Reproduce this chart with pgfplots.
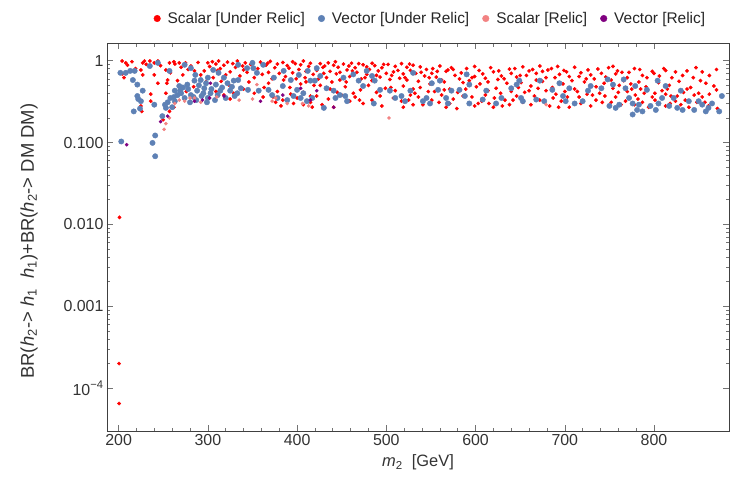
\documentclass[border=0pt]{standalone}
\usepackage{fontspec}
\setmainfont{Liberation Sans}
\usepackage{pgfplots}
\pgfplotsset{compat=1.18}
\definecolor{scalarU}{RGB}{255,0,0}
\definecolor{vectorU}{RGB}{94,129,181}
\definecolor{scalarR}{RGB}{242,130,130}
\definecolor{vectorR}{RGB}{128,0,128}
\begin{document}
\begin{tikzpicture}
\begin{axis}[
  scale only axis, width=622bp, height=387.5bp,
  xmin=187, xmax=884, ymode=log, ymin=3.0e-5, ymax=1.62,
  xtick={200,300,400,500,600,700,800}, minor x tick num=4,
  ytick={1e-4,1e-3,1e-2,1e-1,1},
  yticklabels={10\textsuperscript{−4},0.001,0.010,0.100,1},
  /pgf/number format/assume math mode=true,
  /pgf/number format/1000 sep={},
  tick align=inside, major tick length=6bp, minor tick length=3.5bp,
  every tick/.style={black!55, line width=0.6pt},
  axis line style={black!75, line width=0.8pt},
  tick label style={font=\fontsize{16}{19}\selectfont, text=black!80},
  xlabel={\textit{m}\textsubscript{2}\ \ [GeV]},
  ylabel={BR(\textit{h}\textsubscript{2}-> \textit{h}\textsubscript{1}\ \ \textit{h}\textsubscript{1})+BR(\textit{h}\textsubscript{2}-> DM DM)},
  xlabel style={at={(axis description cs:0.5,-0.0813)}, anchor=center, font=\fontsize{16.5}{20}\selectfont, text=black!80},
  ylabel style={at={(axis description cs:-0.1254,0.49)}, rotate=0, anchor=center, font=\fontsize{18.5}{21}\selectfont, text=black!80},
  legend columns=4,
  legend style={at={(axis description cs:0.52,1.0645)}, anchor=center, draw=none, fill=none,
    font=\fontsize{15.5}{19}\selectfont, text=black!85,
    /tikz/every odd column/.append style={column sep=5bp},
    /tikz/every even column/.append style={column sep=11bp}},
  legend cell align=left,
  legend image code/.code={\fill (0.15cm,0cm) circle (3.3bp);},
]
% Scalar [Under Relic]
\addplot[only marks, mark=*, color=scalarU, mark size=1.7bp, mark options={draw=none, fill=scalarU}] coordinates {
(200.5,6.5e-5) (200.5,2.0e-4) (201,0.0122)
(204,0.99) (208,0.94) (206,0.62) (204,0.69) (227,0.94) (229,0.99) (235,0.99) (240,0.94) (244,0.99)
(257,0.94) (263,0.91) (268,0.94) (275,0.94) (281,0.86) (300,0.94) (253,0.77) (258,0.71) (240,0.67)
(255,0.58) (254,0.53) (225,0.77) (227,0.67) (236,0.39) (236,0.32) (225,0.28) (226,0.24) (244,0.53)
(253,0.40) (250,0.19) (257,0.24) (272,0.67) (285,0.75) (296,0.75)
(210,0.88) (215,0.97) (219,0.80) (231,0.90) (247,0.87) (262,0.97) (270,0.83) (278,0.78) (289,0.95)
(292,0.67) (298,0.55) (284,0.48) (276,0.42) (266,0.57) (262,0.27)
(305,0.97) (309,0.91) (312,0.99) (318,0.88) (322,0.96) (328,0.92) (333,0.99) (339,0.86) (342,0.94)
(348,0.90) (359,0.96) (365,0.88) (370,0.98) (378,0.91) (384,0.95) (389,0.87) (395,0.97) (398,0.92)
(404,0.89) (407,0.99) (415,0.93)
(311,0.76) (325,0.73) (340,0.77) (368,0.72) (384,0.75) (395,0.71) (410,0.74)
(315,0.56) (368,0.53) (385,0.58) (404,0.52) (410,0.55)
(309,0.42) (318,0.38) (325,0.34) (329,0.40) (373,0.36) (378,0.42) (384,0.33) (393,0.39) (400,0.35)
(407,0.41) (415,0.37)
(376,0.31) (382,0.28) (396,0.30) (407,0.29) (415,0.31)
(302,0.85) (306,0.62) (314,0.80) (320,0.67) (324,0.50) (331,0.83) (336,0.65) (344,0.72) (346,0.55)
(352,0.62) (356,0.80) (361,0.68) (363,0.47) (367,0.93) (372,0.60) (375,0.82) (380,0.70) (387,0.64)
(391,0.81) (399,0.60) (402,0.78) (409,0.62) (413,0.85) (418,0.68) (352,0.40) (362,0.36) (340,0.45)
(392,0.47) (419,0.50) (417,0.27)
(426,0.92) (431,0.86) (435,0.94) (441,0.88) (446,0.83) (452,0.91) (458,0.86) (461,0.93) (465,0.82)
(474,0.89) (478,0.84) (484,0.93) (487,0.87) (495,0.82) (502,0.90) (510,0.85) (517,0.92) (523,0.83) (530,0.88)
(422,0.76) (430,0.70) (437,0.74) (444,0.69) (456,0.77) (467,0.72) (478,0.68) (491,0.75) (500,0.70)
(508,0.73) (519,0.69) (527,0.76)
(433,0.62) (448,0.58) (459,0.64) (472,0.60) (484,0.57) (493,0.63) (504,0.59) (515,0.61) (523,0.58)
(426,0.50) (437,0.45) (454,0.48) (471,0.44) (480,0.50) (499,0.46) (510,0.43) (519,0.49) (530,0.45)
(422,0.37) (435,0.34) (450,0.38) (459,0.32) (465,0.36) (484,0.33) (493,0.37) (508,0.35) (517,0.32) (527,0.38)
(428,0.29) (441,0.27) (474,0.30) (495,0.28) (519,0.27) (530,0.29)
(424,0.60) (429,0.83) (439,0.55) (443,0.97) (448,0.72) (455,0.55) (462,0.75) (469,0.92) (476,0.62)
(481,0.78) (489,0.66) (497,0.90) (506,0.66) (513,0.76) (521,0.62) (526,0.91) (533,0.70) (445,0.41)
(463,0.40) (489,0.41) (505,0.47) (525,0.33) (532,0.40) (470,0.33)
(538,0.84) (552,0.80) (560,0.86) (569,0.77) (573,0.82) (599,0.85) (638,0.79)
(539,0.72) (543,0.65) (551,0.70) (556,0.63) (567,0.74) (577,0.66) (584,0.71) (599,0.64) (608,0.69)
(620,0.73) (629,0.65) (640,0.70) (646,0.63)
(536,0.56) (549,0.52) (562,0.58) (586,0.54) (593,0.57) (605,0.52) (614,0.55) (625,0.59) (635,0.53)
(538,0.47) (554,0.42) (571,0.45) (580,0.41) (601,0.48) (614,0.43) (623,0.46) (640,0.42) (648,0.47)
(536,0.36) (551,0.33) (562,0.38) (575,0.34) (586,0.37) (607,0.32) (621,0.35) (633,0.33) (646,0.37)
(541,0.29) (567,0.27) (571,0.30) (579,0.26) (599,0.28) (603,0.30) (620,0.27) (638,0.29)
(545,0.78) (548,0.62) (557,0.74) (565,0.55) (575,0.78) (582,0.60) (590,0.80) (596,0.62) (604,0.76)
(611,0.61) (617,0.82) (626,0.75) (632,0.60) (644,0.80) (650,0.66) (547,0.42) (565,0.44) (589,0.45)
(596,0.36) (611,0.38) (628,0.40) (642,0.33) (559,0.31) (615,0.30) (630,0.28)
(653,0.84) (664,0.78) (672,0.86) (675,0.74) (685,0.80) (699,0.76) (711,0.83) (737,0.79) (754,0.85) (759,0.75)
(657,0.66) (668,0.70) (679,0.62) (694,0.68) (705,0.64) (718,0.71) (724,0.60) (729,0.67) (746,0.63) (757,0.69)
(651,0.54) (662,0.49) (675,0.56) (686,0.47) (698,0.52) (711,0.45) (722,0.55) (735,0.48) (744,0.53)
(754,0.46) (761,0.50)
(655,0.41) (666,0.37) (679,0.43) (690,0.39) (703,0.36) (714,0.42) (731,0.38) (739,0.40) (757,0.36)
(653,0.31) (662,0.29) (672,0.33) (683,0.28) (696,0.32) (705,0.27) (718,0.30) (729,0.28) (742,0.31) (763,0.29)
(660,0.75) (668,0.58) (681,0.77) (689,0.62) (692,0.85) (702,0.73) (708,0.57) (716,0.64) (726,0.77)
(733,0.60) (741,0.70) (749,0.82) (752,0.58) (764,0.72) (770,0.62) (778,0.80) (660,0.43) (670,0.46)
(687,0.35) (700,0.42) (716,0.36) (725,0.39) (745,0.37) (760,0.41) (775,0.45) (693,0.27) (735,0.33) (752,0.31)
(772,0.72) (787,0.66) (798,0.74) (800,0.70) (813,0.76) (824,0.73) (837,0.75) (854,0.73)
(766,0.57) (774,0.52) (783,0.55) (791,0.48) (805,0.54) (817,0.50) (828,0.56) (841,0.47) (858,0.53) (867,0.49)
(770,0.42) (779,0.38) (789,0.40) (798,0.36) (809,0.43) (813,0.39) (819,0.37) (833,0.41) (845,0.38)
(854,0.36) (876,0.37)
(768,0.32) (778,0.29) (787,0.31) (794,0.27) (804,0.30) (813,0.28) (824,0.32) (830,0.29) (839,0.27)
(848,0.31) (861,0.28) (865,0.30) (871,0.26)
(784,0.78) (792,0.62) (806,0.65) (811,0.80) (820,0.62) (832,0.66) (844,0.62) (847,0.82) (852,0.57)
(862,0.66) (870,0.78) (785,0.45) (801,0.40) (815,0.45) (826,0.37) (837,0.45) (850,0.40) (862,0.39)
(870,0.44) (782,0.34) (801,0.33) (818,0.30) (835,0.33) (857,0.31)
};
\addlegendentry{Scalar [Under Relic]}
% Vector [Under Relic]
\addplot[only marks, mark=*, color=vectorU, mark size=2.7bp, mark options={draw=none, fill=vectorU}] coordinates {
(203,0.103) (238,0.099) (241,0.122) (241,0.068)
(202,0.71) (208,0.71) (213,0.75) (218,0.75) (216,0.58) (221,0.51) (227,0.43) (221,0.37) (225,0.32)
(217,0.24) (224,0.26) (235,0.86) (244,0.94) (240,0.29) (249,0.21) (253,0.265) (252,0.29) (258,0.35)
(263,0.43) (268,0.49) (277,0.51) (285,0.57) (281,0.81) (274,0.89) (286,0.67) (292,0.58) (300,0.62)
(257,0.75) (274,0.35) (281,0.38) (288,0.43) (296,0.46) (300,0.35) (269,0.43) (263,0.32) (266,0.38) (222,0.34)
(270,0.40) (278,0.45) (284,0.36) (290,0.50) (295,0.40) (298,0.53) (262,0.36) (272,0.47) (280,0.31)
(287,0.33) (293,0.37) (299,0.31) (255,0.31) (260,0.27)
(306,0.77) (312,0.71) (318,0.62) (309,0.51) (322,0.53) (329,0.57) (334,0.58) (314,0.43) (325,0.43)
(333,0.40) (320,0.35) (311,0.38) (337,0.46) (350,0.94) (344,0.81) (351,0.81) (362,0.89) (334,0.89)
(355,0.71) (345,0.44) (357,0.43) (368,0.44) (372,0.38) (378,0.35) (389,0.33) (396,0.37) (404,0.35)
(411,0.32) (417,0.35) (400,0.44) (407,0.40) (384,0.49) (393,0.58) (402,0.67) (412,0.75) (415,0.57)
(385,0.75) (374,0.62)
(304,0.45) (316,0.47) (327,0.48) (303,0.40) (330,0.37) (308,0.33)
(422,0.81) (426,0.65) (420,0.57) (433,0.46) (441,0.43) (448,0.38) (443,0.35) (454,0.37) (430,0.265)
(456,0.32) (469,0.57) (474,0.49) (484,0.65) (487,0.57) (493,0.44) (486,0.30) (504,0.43) (510,0.35)
(517,0.37) (521,0.32) (530,0.71) (527,0.43) (463,0.68) (452,0.62) (478,0.75)
(545,0.35) (551,0.53) (560,0.57) (558,0.44) (567,0.35) (569,0.30) (573,0.43) (582,0.44) (588,0.37)
(590,0.68) (593,0.51) (593,0.30) (608,0.335) (612,0.43) (623,0.30) (629,0.35) (640,0.46) (646,0.51)
(541,0.32) (549,0.30) (651,0.35)
(649,0.57) (672,0.57) (694,0.53) (705,0.46) (686,0.44) (677,0.32) (668,0.335) (653,0.32) (701,0.32)
(711,0.30) (726,0.43) (729,0.49) (741,0.46) (748,0.59) (754,0.51) (750,0.28) (757,0.265) (761,0.29)
(698,0.37) (720,0.32)
(766,0.59) (768,0.46) (779,0.49) (772,0.35) (776,0.30) (783,0.29) (792,0.44) (804,0.57) (805,0.30)
(809,0.35) (813,0.49) (822,0.35) (830,0.43) (832,0.25) (839,0.32) (845,0.25) (850,0.32) (854,0.29)
(861,0.265) (865,0.30) (873,0.24) (876,0.37) (781,0.25) (776,0.22) (787,0.24) (796,0.28) (802,0.25)
(817,0.28) (826,0.265) (858,0.24)
};
\addlegendentry{Vector [Under Relic]}
% Scalar [Relic]
\addplot[only marks, mark=*, color=scalarR, mark size=1.6bp, mark options={draw=none, fill=scalarR}] coordinates {
(251,0.145) (253,0.17) (257,0.20) (263,0.30) (274,0.32) (280,0.35) (285,0.35) (372,0.32) (376,0.35)
(389,0.30) (406,0.30) (413,0.28) (355,0.51) (503,0.20) (679,0.29) (268,0.33) (292,0.31) (310,0.36)
(335,0.33) (350,0.34)
};
\addlegendentry{Scalar [Relic]}
% Vector [Relic]
\addplot[only marks, mark=*, color=vectorR, mark size=1.6bp, mark options={draw=none, fill=vectorR}] coordinates {
(209,0.094) (247,0.18) (255,0.21) (285,0.32) (294,0.33) (302,0.35) (303,0.53) (359,0.32) (318,0.37)
(404,0.46) (415,0.33) (384,0.38) (422,0.43) (441,0.27)
};
\addlegendentry{Vector [Relic]}
\end{axis}
\pgfresetboundingbox
\path[use as bounding box] ([shift={(-107bp,-53bp)}]current axis.south west) rectangle ([shift={(8bp,43.5bp)}]current axis.north east);
\end{tikzpicture}
\end{document}
